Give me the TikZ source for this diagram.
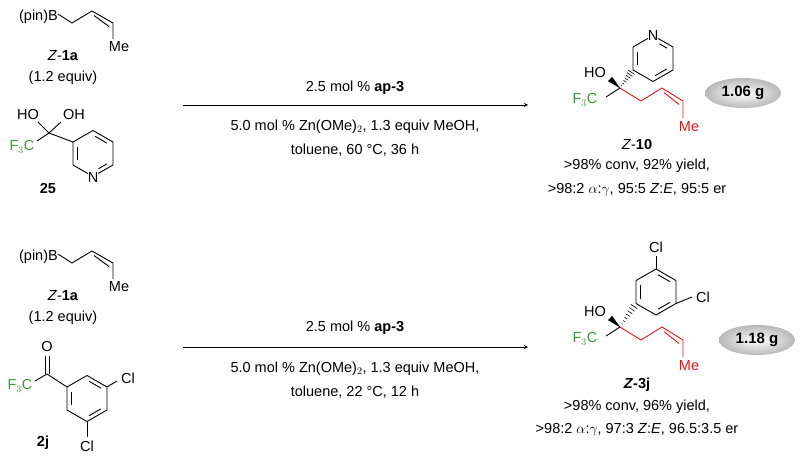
\documentclass[tikz,border=0pt]{standalone}
\usepackage{fontspec}
\setmainfont{Liberation Sans}
\usetikzlibrary{calc,shapes.geometric}
\definecolor{fgreen}{RGB}{60,150,60}
\definecolor{cred}{RGB}{230,20,20}
\newcommand\inb[3]{\draw[bond] ($($(#1)!0.2!(#3)$)!0.13!($(#2)!0.2!(#3)$)$) -- ($($(#2)!0.2!(#3)$)!0.13!($(#1)!0.2!(#3)$)$);}
\newcommand\hexa[3]{%
 \coordinate (#1c) at (#2,#3);
 \coordinate (#1t) at (#2,#3-23); \coordinate (#1ur) at (#2+20,#3-11.5);
 \coordinate (#1lr) at (#2+20,#3+11.5); \coordinate (#1b) at (#2,#3+23);
 \coordinate (#1ll) at (#2-20,#3+11.5); \coordinate (#1ul) at (#2-20,#3-11.5);}
\begin{document}
\begin{tikzpicture}[x=1pt,y=-1pt,
 bond/.style={line width=0.9pt},
 lab/.style={font=\fontsize{14.5}{16}\selectfont,inner sep=0pt},
 pill/.style={ellipse,minimum width=76,minimum height=30,shading=radial,inner color=white,outer color=gray!55,font=\fontsize{15}{17}\selectfont\bfseries}]
\useasboundingbox (0,0) rectangle (800,455);
% ---------- left reagents ----------
\foreach \dy/\s in {0/a,240/b}{
 \node[lab,anchor=east] (pin\s) at (58,17+\dy) {(pin)B};
 \coordinate (c1\s) at (72,23+\dy); \coordinate (c2\s) at (92,11+\dy);
 \coordinate (c3\s) at (113,23+\dy); \coordinate (c4\s) at (113,39+\dy);
 \draw[bond] (58,14+\dy) -- (c1\s) -- (c2\s) -- (c3\s) -- (c4\s);
 \draw[bond] ($(c2\s)+(2,4.5)$) -- ($(c3\s)+(-4,3.5)$);
 \node[lab] (me\s) at (119,47+\dy) {Me};
 \node[lab] (z\s) at (63,56+\dy) {\textit{Z}-\textbf{1a}};
 \node[lab] (eq\s) at (63,78+\dy) {(1.2 equiv)};
}
% compound 25
\coordinate (cc) at (49,133);
\hexa{p}{93}{153.5}
\node[lab] (ho1) at (28,115) {HO};
\node[lab] (oh1) at (74,115) {OH};
\node[lab,text=fgreen] (f1) at (22,147) {F$_3$C};
\node[lab] (n1) at (93,178) {N};
\draw[bond] (cc) -- (38,122); \draw[bond] (cc) -- (61,122);
\draw[bond] (cc) -- (37,141); \draw[bond] (cc) -- (pul);
\draw[bond] (pll) -- (pul) -- (pt) -- (pur) -- (plr);
\draw[bond,shorten >=6pt] (plr) -- (pb);
\draw[bond,shorten >=6pt] (pll) -- (pb);
\inb{pt}{pur}{pc} \inb{pll}{pul}{pc}
\draw[bond] ($($(plr)!0.2!(pc)$)!0.13!($(pb)!0.2!(pc)$)$) -- ($($(pb)!0.2!(pc)$)!0.35!($(plr)!0.2!(pc)$)$);
\node[lab,font=\fontsize{14.5}{16}\selectfont\bfseries] (n25) at (48,189) {25};
% compound 2j
\coordinate (kc) at (47,374);
\hexa{q}{87}{398.5}
\node[lab] (o2) at (47,347) {O};
\node[lab,text=fgreen] (f2) at (20,386) {F$_3$C};
\draw[bond] (kc) -- (35,381); \draw[bond] (kc) -- (qul);
\draw[bond] (45,374) -- (45,356); \draw[bond] (49,374) -- (49,356);
\draw[bond] (qul) -- (qt) -- (qur) -- (qlr) -- (qb) -- (qll) -- cycle;
\inb{qt}{qur}{qc} \inb{qll}{qul}{qc} \inb{qlr}{qb}{qc}
\draw[bond] (qur) -- (117,381); \node[lab] (cl1) at (128,378) {Cl};
\draw[bond] (qb) -- (87,437); \node[lab] (cl2) at (87,446) {Cl};
\node[lab,font=\fontsize{14.5}{16}\selectfont\bfseries] (n2j) at (43,443) {2j};
% ---------- arrows ----------
\coordinate (a1s) at (183,105); \coordinate (a1e) at (528,105);
\coordinate (a2s) at (183,347); \coordinate (a2e) at (528,347);
\draw[line width=0.8pt,-stealth] (a1s) -- (a1e);
\draw[line width=0.8pt,-stealth] (a2s) -- (a2e);
\node[lab] (t1) at (355,88) {2.5 mol \% \textbf{ap-3}};
\node[lab] (t2) at (355,127) {5.0 mol \% Zn(OMe)$_2$, 1.3 equiv MeOH,};
\node[lab] (t3) at (355,150) {toluene, 60 °C, 36 h};
\node[lab] (t4) at (355,328) {2.5 mol \% \textbf{ap-3}};
\node[lab] (t5) at (355,369) {5.0 mol \% Zn(OMe)$_2$, 1.3 equiv MeOH,};
\node[lab] (t6) at (355,392) {toluene, 22 °C, 12 h};
% ---------- products ----------
\foreach \dy/\s in {0/a,239/b}{
 \coordinate (pc\s) at (620,88+\dy);
 \coordinate (p1\s) at (641,101+\dy); \coordinate (p2\s) at (662,88+\dy);
 \coordinate (p3\s) at (683,101+\dy); \coordinate (p4\s) at (683,118+\dy);
 \draw[bond,cred] (pc\s) -- (p1\s) -- (p2\s) -- (p3\s) -- (p4\s);
 \draw[bond,cred] ($(p2\s)+(2,4.5)$) -- ($(p3\s)+(-4,3.5)$);
 \node[lab,text=cred] (pme\s) at (689,127+\dy) {Me};
 \node[lab] (pho\s) at (595,73+\dy) {HO};
 \node[lab,text=fgreen] (pf\s) at (585,100+\dy) {F$_3$C};
 \fill ($(pc\s)+(0.6,0.6)$) -- ($(610,79+\dy)+(2,-2.2)$) -- ($(610,79+\dy)+(-2,2.2)$) -- cycle;
 \draw[bond] (pc\s) -- (606,97+\dy);
}
% Z-10 ring
\hexa{r}{653}{58.5}
\node[lab] (n3) at (653,36) {N};
\draw[bond,shorten >=6pt] (rul) -- (rt);
\draw[bond,shorten >=6pt] (rur) -- (rt);
\draw[bond] (rul) -- (rll) -- (rb) -- (rlr) -- (rur);
\inb{rll}{rul}{rc} \inb{rlr}{rb}{rc}
\draw[bond] ($($(rur)!0.2!(rc)$)!0.13!($(rt)!0.2!(rc)$)$) -- ($($(rt)!0.2!(rc)$)!0.4!($(rur)!0.2!(rc)$)$);
\foreach \i in {1,...,7}{\draw[line width=0.6pt] ($(pca)!\i/8!(rll)+(-\i*0.45,-\i*0.3)$) -- ($(pca)!\i/8!(rll)+(\i*0.45,\i*0.3)$);}
% Z-3j ring
\hexa{s}{656}{292}
\draw[bond] (sll) -- (sul) -- (st) -- (sur) -- (slr) -- (sb) -- cycle;
\inb{sll}{sul}{sc} \inb{st}{sur}{sc} \inb{slr}{sb}{sc}
\draw[bond] (st) -- (656,256); \node[lab] (cl3) at (656,247) {Cl};
\draw[bond] (slr) -- (692,297); \node[lab] (cl4) at (703,297) {Cl};
\foreach \i in {1,...,7}{\draw[line width=0.6pt] ($(pcb)!\i/8!(sll)+(-\i*0.45,-\i*0.3)$) -- ($(pcb)!\i/8!(sll)+(\i*0.45,\i*0.3)$);}
% labels
\node[lab] (z10) at (637,145) {\textit{Z}-\textbf{10}};
\node[lab] (r1) at (637,166) {>98\% conv, 92\% yield,};
\node[lab] (r2) at (637,190) {>98:2 $\alpha$:$\gamma$, 95:5 \textit{Z}:\textit{E}, 95:5 er};
\node[pill] (g1) at (743,93) {1.06 g};
\node[lab] (z3j) at (637,385) {\textbf{\textit{Z}-3j}};
\node[lab] (r3) at (637,407) {>98\% conv, 96\% yield,};
\node[lab] (r4) at (637,430) {>98:2 $\alpha$:$\gamma$, 97:3 \textit{Z}:\textit{E}, 96.5:3.5 er};
\node[pill] (g2) at (757,340) {1.18 g};
\end{tikzpicture}
\end{document}
